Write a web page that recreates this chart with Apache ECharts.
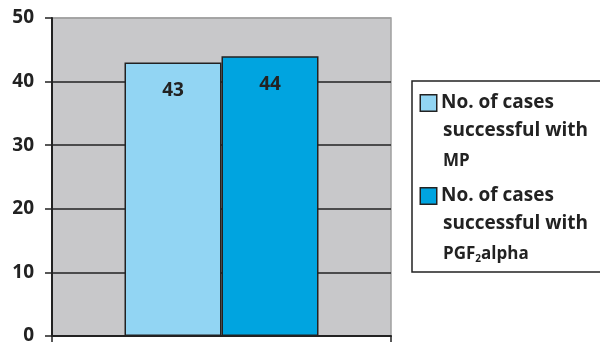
<!DOCTYPE html>
<html>
<head>
  <meta charset="utf-8">
</head>
<body style="margin: 0; background: #fff">
  <div id="container" style="width: 600px; height: 342px"></div>
  <script src="https://cdn.jsdelivr.net/npm/echarts@6/dist/echarts.min.js"></script>
  <script>
    const seriesNames = ['No. of cases successful with MP', 'No. of cases successful with PGF2alpha'];
    const mpValues = [43];
    const pgfValues = [44];
    const barColors = ['#92d5f3', '#00a4e0'];
    const yTicks = { min: 0, max: 50, interval: 10 };

    const chart = echarts.init(document.getElementById('container'), null, { renderer: 'canvas' });
    const font = '"Open Sans", Lato, sans-serif';

    const legendText = {};
    legendText[seriesNames[0]] = '{b0|} No. of cases\n{ind|}successful with\n{ind|}{s|MP}';
    legendText[seriesNames[1]] = '{b1|} No. of cases\n{ind|}successful with\n{ind|}{s|PGF}{sub|2}{s|alpha}';

    const option = {
      animation: false,
      textStyle: { fontFamily: font },
      grid: {
        left: 52, right: 209, top: 18, bottom: 6,
        outerBoundsMode: 'none',
        show: true,
        backgroundColor: '#c8c8ca',
        borderColor: '#a0a0a0',
        borderWidth: 1.5
      },
      legend: {
        orient: 'vertical',
        left: 412,
        top: 81,
        icon: 'none',
        itemWidth: 0,
        itemHeight: 0,
        itemGap: 5,
        selectedMode: false,
        borderColor: '#222',
        borderWidth: 1.5,
        padding: [8, 80, 2, 4],
        formatter: function (name) { return legendText[name]; },
        textStyle: {
          fontFamily: font,
          fontSize: 19,
          fontWeight: 'bold',
          color: '#222',
          lineHeight: 28,
          rich: {
            b0: { width: 15, height: 15, backgroundColor: barColors[0], borderColor: '#222', borderWidth: 1.5 },
            b1: { width: 15, height: 15, backgroundColor: barColors[1], borderColor: '#222', borderWidth: 1.5 },
            ind: { width: 22 },
            s: { fontSize: 17, fontWeight: 'bold', color: '#222', lineHeight: 32 },
            sub: { fontSize: 10, fontWeight: 'bold', color: '#222', padding: [11, 0, 0, 0] }
          }
        },
        data: seriesNames
      },
      xAxis: {
        type: 'category',
        data: [''],
        axisLine: { lineStyle: { color: '#222', width: 2 } },
        axisTick: { show: true, length: 6, lineStyle: { color: '#222', width: 1.5 } },
        axisLabel: { show: false },
        splitLine: { show: false }
      },
      yAxis: {
        type: 'value',
        min: yTicks.min,
        max: yTicks.max,
        interval: yTicks.interval,
        axisLine: { show: true, lineStyle: { color: '#222', width: 2 } },
        axisTick: { show: true, length: 7, lineStyle: { color: '#222', width: 1.5 } },
        axisLabel: { fontSize: 19, fontWeight: 'bold', color: '#222', margin: 18, fontFamily: font },
        splitLine: {
          lineStyle: { color: ['#222', '#222', '#222', '#222', '#222', '#a0a0a0'], width: 1.5 }
        }
      },
      series: [
        {
          name: seriesNames[0],
          type: 'bar',
          data: mpValues,
          barWidth: 97,
          barGap: '0%',
          itemStyle: { color: barColors[0], borderColor: '#222', borderWidth: 1.5 },
          label: { show: true, position: 'insideTop', distance: 19, fontSize: 19, fontWeight: 'bold', color: '#222', fontFamily: font }
        },
        {
          name: seriesNames[1],
          type: 'bar',
          data: pgfValues,
          barWidth: 97,
          barGap: '0%',
          itemStyle: { color: barColors[1], borderColor: '#222', borderWidth: 1.5 },
          label: { show: true, position: 'insideTop', distance: 19, fontSize: 19, fontWeight: 'bold', color: '#222', fontFamily: font }
        }
      ]
    };

    chart.setOption(option);
    window.addEventListener('resize', chart.resize);
  </script>
</body>
</html>
